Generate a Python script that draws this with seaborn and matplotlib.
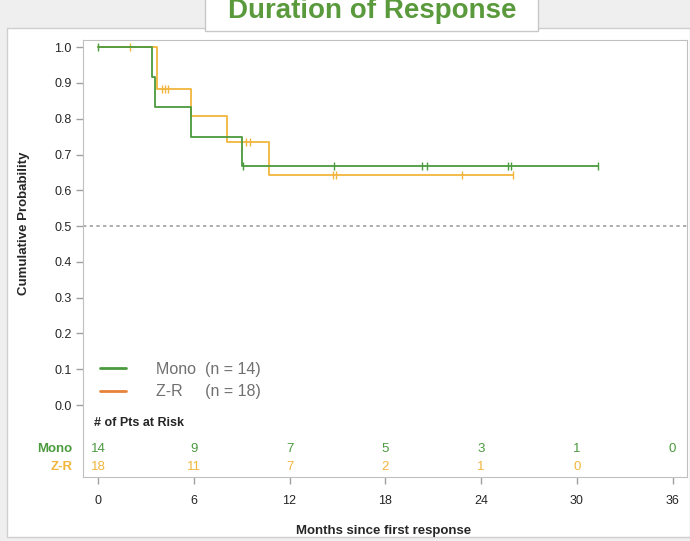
import numpy as np
import pandas as pd
import seaborn as sns
from matplotlib import pyplot as plt
from matplotlib.lines import Line2D
from matplotlib.patches import Rectangle

# step points (month, survival)
mono_t = [0, 3.4, 3.6, 5.8, 9.0, 31.3]
mono_s = [1.0, 0.917, 0.833, 0.75, 0.667, 0.667]
zr_t = [0, 3.7, 5.8, 8.1, 10.7, 26.0]
zr_s = [1.0, 0.882, 0.809, 0.735, 0.643, 0.643]

# censor marks
mono_cens_t = [0, 9.1, 14.8, 20.3, 20.6, 25.7, 25.9, 31.3]
mono_cens_s = [1.0, 0.667, 0.667, 0.667, 0.667, 0.667, 0.667, 0.667]
zr_cens_t = [2.0, 4.0, 4.2, 4.4, 9.3, 9.5, 14.7, 14.9, 22.8, 26.0]
zr_cens_s = [1.0, 0.882, 0.882, 0.882, 0.735, 0.735, 0.643, 0.643, 0.643, 0.643]

# numbers at risk
risk_months = [0, 6, 12, 18, 24, 30, 36]
mono_risk = [14, 9, 7, 5, 3, 1, 0]
zr_risk = [18, 11, 7, 2, 1, 0]

green = '#4b9a3e'
yellow = '#f1b53c'
orange = '#e8833a'
grey_txt = '#707070'

sns.set_style('white')
plt.rcParams['font.family'] = ['Liberation Sans', 'DejaVu Sans']

fig = plt.figure(figsize=(6.9, 5.41), dpi=100)
fig.patch.set_facecolor('#efefef')
# white panel and title box
fig.patches.append(Rectangle((7 / 690, 1 - 537 / 541), 683 / 690, 509 / 541, transform=fig.transFigure,
                             facecolor='white', edgecolor='#cfcfcf', lw=1, zorder=0))
fig.patches.append(Rectangle((205 / 690, 1 - 31 / 541), 333 / 690, 40 / 541, transform=fig.transFigure,
                             facecolor='white', edgecolor='#c8c8c8', lw=1, zorder=1))
fig.text(372 / 690, 1 - 18 / 541, 'Duration of Response', ha='center', va='baseline',
         fontsize=20, fontweight='bold', color='#5a9a3c', zorder=2)

ax = fig.add_axes([83 / 690, 1 - 477 / 541, 604 / 690, 437 / 541])
ax.set_zorder(5)
ax.patch.set_alpha(0)

mono = pd.DataFrame({'t': mono_t, 's': mono_s})
zr = pd.DataFrame({'t': zr_t, 's': zr_s})
sns.lineplot(data=zr, x='t', y='s', drawstyle='steps-post', color=yellow, lw=1.3, ax=ax)
sns.lineplot(data=mono, x='t', y='s', drawstyle='steps-post', color=green, lw=1.3, ax=ax)
sns.scatterplot(x=zr_cens_t, y=zr_cens_s, marker='|', s=40, linewidth=1, color=yellow, ax=ax)
sns.scatterplot(x=mono_cens_t, y=mono_cens_s, marker='|', s=40, linewidth=1, color=green, ax=ax)

ax.axhline(0.5, color='#a0a0a0', ls=(0, (2, 2)), lw=1.2)

ax.set_xlim(-0.94, 36.9)
ax.set_ylim(-0.201, 1.02)
ax.set_yticks(np.arange(0, 1.01, 0.1))
ax.set_yticklabels([f'{v:.1f}' for v in np.arange(0, 1.01, 0.1)])
ax.set_xticks(risk_months)
ax.tick_params(axis='both', labelsize=9, length=5, width=1, color='#a0a0a0', direction='out',
               left=True, bottom=True, pad=3)
ax.tick_params(axis='x', pad=8)
for sp in ax.spines.values():
    sp.set_color('#c0c0c0')

ax.set_ylabel('Cumulative Probability', fontsize=9.5, fontweight='bold')
ax.yaxis.set_label_coords(-0.088, 0.58)
ax.set_xlabel('Months since first response', fontsize=9.5, fontweight='bold')
ax.xaxis.set_label_coords(0.497, -0.11)

# risk table
ax.text(-0.25, -0.05, '# of Pts at Risk', fontsize=9, fontweight='bold', va='center', ha='left')
ax.text(-1.6, -0.122, 'Mono', fontsize=9.5, fontweight='bold', color=green, va='center', ha='right', clip_on=False)
ax.text(-1.6, -0.172, 'Z-R', fontsize=9.5, fontweight='bold', color=yellow, va='center', ha='right', clip_on=False)
for m, n in zip(risk_months, mono_risk):
    ax.text(m, -0.122, str(n), fontsize=9.5, color=green, ha='center', va='center')
for m, n in zip(risk_months, zr_risk):
    ax.text(m, -0.172, str(n), fontsize=9.5, color=yellow, ha='center', va='center')

handles = [Line2D([], [], color=green, lw=2), Line2D([], [], color=orange, lw=2)]
leg = ax.legend(handles, ['Mono  (n = 14)', 'Z-R     (n = 18)'], loc='lower left',
                bbox_to_anchor=(0.005, 0.145), frameon=False, fontsize=11.5,
                handlelength=1.6, handletextpad=1.9, labelspacing=0.45)
for t in leg.get_texts():
    t.set_color(grey_txt)

fig.savefig('out.png', dpi=100)
